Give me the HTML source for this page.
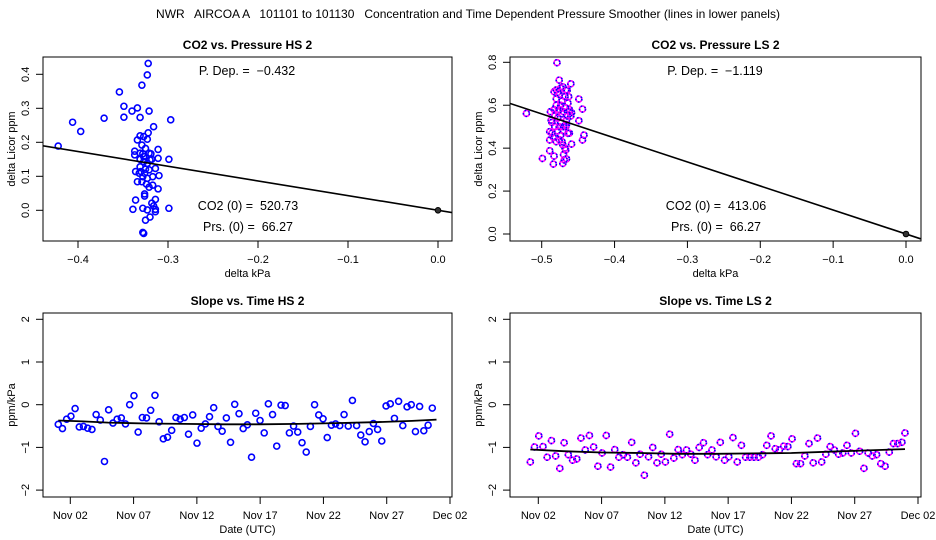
<!DOCTYPE html>
<html><head><meta charset="utf-8">
<style>
html,body{margin:0;padding:0;background:#fff;}
svg{display:block;font-family:"Liberation Sans",sans-serif;}
svg text{white-space:pre;}
</style></head>
<body>
<svg id="chart" width="936" height="540" viewBox="0 0 936 540" xmlns="http://www.w3.org/2000/svg" xml:space="preserve">
<text x="468" y="18" text-anchor="middle" font-size="12">NWR   AIRCOA A   101101 to 101130   Concentration and Time Dependent Pressure Smoother (lines in lower panels)</text>
</svg>
<script>
// ---- data: top-left HS scatter ----
const hsPx=[-0.422,-0.406,-0.397,-0.371,-0.354,-0.349,-0.349,-0.340,-0.334,-0.331,-0.329,-0.323,-0.322,-0.321,-0.316,-0.322,-0.297,-0.299,-0.299,-0.311,-0.311,-0.310,-0.311,-0.314,-0.314,-0.314,-0.320,-0.325,-0.327,-0.328,-0.336,-0.339,-0.326,-0.326,-0.317,-0.317,-0.334,-0.336,-0.337,-0.337,-0.334,-0.331,-0.327,-0.323,-0.329,-0.325,-0.328,-0.321,-0.319,-0.331,-0.327,-0.323,-0.320,-0.331,-0.325,-0.321,-0.332,-0.328,-0.323,-0.329,-0.324,-0.321,-0.328,-0.323,-0.318,-0.316,-0.314,-0.331,-0.327,-0.330,-0.326,-0.318];
const hsPy=[0.189,0.259,0.232,0.271,0.348,0.306,0.274,0.292,0.301,0.273,0.368,0.398,0.432,0.292,0.246,0.228,0.266,0.150,0.006,0.179,0.153,0.102,0.063,0.123,0.032,-0.004,-0.020,-0.029,-0.068,-0.065,0.030,0.003,0.048,0.042,0.099,0.074,0.084,0.114,0.163,0.174,0.207,0.219,0.217,0.209,0.192,0.182,0.166,0.168,0.166,0.150,0.143,0.138,0.148,0.128,0.121,0.119,0.109,0.099,0.094,0.084,0.077,0.068,0.006,0.001,0.021,0.013,0.003,0.168,0.158,0.114,0.109,0.150];
const hsSlopeP=-0.432;
const hsXTicks=[-0.4,-0.3,-0.2,-0.1,0.0];
const hsXLabels=["\u22120.4","\u22120.3","\u22120.2","\u22120.1","0.0"];
const hsYTicks=[0.0,0.1,0.2,0.3,0.4];
const hsYLabels=["0.0","0.1","0.2","0.3","0.4"];
// ---- data: top-right LS scatter ----
const lsPx=[-0.521,-0.499,-0.479,-0.476,-0.449,-0.449,-0.444,-0.442,-0.444,-0.459,-0.460,-0.489,-0.483,-0.484,-0.489,-0.489,-0.487,-0.488,-0.483,-0.480,-0.471,-0.469,-0.467,-0.471,-0.464,-0.467,-0.462,-0.459,-0.463,-0.467,-0.471,-0.480,-0.476,-0.472,-0.468,-0.465,-0.478,-0.474,-0.470,-0.466,-0.482,-0.478,-0.474,-0.470,-0.484,-0.480,-0.476,-0.486,-0.472,-0.468,-0.476,-0.480,-0.464,-0.462,-0.470,-0.474,-0.478,-0.466,-0.482,-0.486,-0.472,-0.468,-0.470,-0.466,-0.478,-0.474,-0.465,-0.483,-0.460,-0.462,-0.476];
const lsPy=[0.562,0.352,0.798,0.717,0.629,0.528,0.582,0.461,0.438,0.419,0.700,0.388,0.363,0.326,0.477,0.438,0.531,0.570,0.663,0.671,0.329,0.345,0.391,0.415,0.469,0.500,0.570,0.565,0.640,0.671,0.686,0.600,0.580,0.560,0.590,0.550,0.540,0.520,0.500,0.530,0.500,0.480,0.460,0.480,0.450,0.430,0.440,0.470,0.620,0.640,0.650,0.630,0.610,0.580,0.570,0.600,0.570,0.510,0.550,0.520,0.430,0.400,0.370,0.350,0.660,0.680,0.670,0.580,0.550,0.470,0.500];
const lsSlopeP=-1.119;
const lsXTicks=[-0.5,-0.4,-0.3,-0.2,-0.1,0.0];
const lsXLabels=["\u22120.5","\u22120.4","\u22120.3","\u22120.2","\u22120.1","0.0"];
const lsYTicks=[0.0,0.2,0.4,0.6,0.8];
const lsYLabels=["0.0","0.2","0.4","0.6","0.8"];
// ---- data: bottom-left HS slope vs time (day of Nov) ----
const hsT=[1.05,1.38,1.71,2.05,2.38,2.71,3.04,3.37,3.71,4.04,4.37,4.70,5.03,5.37,5.70,6.03,6.36,6.69,7.03,7.36,7.69,8.02,8.35,8.69,9.02,9.35,9.68,10.01,10.35,10.68,11.01,11.34,11.67,12.01,12.34,12.67,13.00,13.33,13.67,14.00,14.33,14.66,14.99,15.33,15.66,15.99,16.32,16.65,16.99,17.32,17.65,17.98,18.31,18.65,18.98,19.31,19.64,19.97,20.31,20.64,20.97,21.30,21.63,21.97,22.30,22.63,22.96,23.29,23.63,23.96,24.29,24.62,24.95,25.29,25.62,25.95,26.28,26.61,26.95,27.28,27.61,27.94,28.27,28.61,28.94,29.27,29.60,29.93,30.27,30.60,30.93];
const hsS=[-0.46,-0.56,-0.34,-0.27,-0.09,-0.52,-0.51,-0.55,-0.58,-0.23,-0.36,-1.33,-0.12,-0.43,-0.34,-0.31,-0.45,0.00,0.21,-0.64,-0.30,-0.31,-0.13,0.22,-0.40,-0.80,-0.76,-0.60,-0.30,-0.34,-0.30,-0.69,-0.24,-0.90,-0.55,-0.45,-0.28,-0.07,-0.51,-0.62,-0.31,-0.88,0.01,-0.21,-0.56,-0.47,-1.23,-0.20,-0.37,-0.66,0.02,-0.23,-0.97,-0.01,-0.02,-0.66,-0.50,-0.64,-0.89,-1.11,-0.51,0.00,-0.24,-0.33,-0.77,-0.48,-0.45,-0.49,-0.23,-0.50,0.10,-0.49,-0.71,-0.87,-0.63,-0.44,-0.58,-0.85,-0.03,0.02,-0.32,0.08,-0.49,-0.05,0.00,-0.63,-0.04,-0.61,-0.48,-0.08];
const hsSmT=[1.05,3,5,8,11,14,17,20,23,26,29,30.93];
const hsSmV=[-0.37,-0.39,-0.42,-0.44,-0.45,-0.46,-0.46,-0.45,-0.43,-0.41,-0.38,-0.35];
// ---- data: bottom-right LS slope vs time ----
const lsT=[1.37,1.70,2.04,2.37,2.70,3.04,3.37,3.70,4.04,4.37,4.71,5.04,5.37,5.71,6.04,6.37,6.71,7.04,7.37,7.71,8.04,8.37,8.71,9.04,9.38,9.71,10.04,10.38,10.71,11.04,11.38,11.71,12.04,12.38,12.71,13.05,13.38,13.71,14.05,14.38,14.71,15.05,15.38,15.72,16.05,16.38,16.72,17.05,17.38,17.72,18.05,18.38,18.72,19.05,19.39,19.72,20.05,20.39,20.72,21.05,21.39,21.72,22.05,22.39,22.72,23.06,23.39,23.72,24.06,24.39,24.72,25.06,25.39,25.73,26.06,26.39,26.73,27.06,27.39,27.73,28.06,28.39,28.73,29.06,29.40,29.73,30.06,30.40,30.73,30.97];
const lsS=[-1.34,-0.99,-0.73,-0.98,-1.23,-0.84,-1.20,-1.49,-0.89,-1.17,-1.30,-1.27,-0.78,-1.06,-0.72,-0.99,-1.44,-1.13,-0.72,-1.46,-1.05,-1.23,-1.17,-1.23,-0.88,-1.36,-1.16,-1.65,-1.22,-1.00,-1.36,-1.16,-1.34,-0.69,-1.25,-1.05,-1.17,-1.06,-1.16,-1.30,-1.00,-0.89,-1.17,-1.06,-1.22,-0.88,-1.30,-1.22,-0.77,-1.34,-0.95,-1.23,-1.23,-1.23,-1.23,-1.17,-0.95,-0.73,-1.03,-1.06,-0.97,-0.98,-0.80,-1.38,-1.38,-1.20,-0.91,-1.36,-0.78,-1.34,-1.16,-0.98,-1.06,-1.16,-1.13,-0.95,-1.13,-0.67,-1.09,-1.49,-1.13,-1.20,-1.17,-1.38,-1.44,-1.11,-0.91,-0.91,-0.88,-0.66];
const lsSmT=[1.37,4,7,10,13,16,19,22,25,28,30.97];
const lsSmV=[-1.05,-1.09,-1.12,-1.13,-1.15,-1.15,-1.14,-1.13,-1.10,-1.07,-1.04];
const slYTicks=[-2,-1,0,1,2];
const slYLabels=["\u22122","\u22121","0","1","2"];
const dateTicks=[2,7,12,17,22,27,32];
const dateLabels=["Nov 02","Nov 07","Nov 12","Nov 17","Nov 22","Nov 27","Dec 02"];

const NS="http://www.w3.org/2000/svg";
const svg=document.getElementById('chart');
function mk(tag,attrs,parent){const e=document.createElementNS(NS,tag);for(const k in attrs)e.setAttribute(k,attrs[k]);(parent||svg).appendChild(e);return e;}
function lin(d0,d1,r0,r1){return v=>r0+(v-d0)*(r1-r0)/(d1-d0);}

function panel(o){
  const g=mk('g',{});
  
  
  const t=mk('text',{x:(o.x0+o.x1)/2,y:o.y0-8,'text-anchor':'middle','font-size':12,'font-weight':'bold'},g);
  t.textContent=o.title;
  
  
  const box=mk('rect',{x:o.x0,y:o.y0,width:o.x1-o.x0,height:o.y1-o.y0,fill:'none',stroke:'#000','stroke-width':1},g);
  
  
  const xa=mk('g',{},g);
  
  
  o.xt.forEach((v,i)=>{const px=o.sx(v);
    mk('line',{x1:px,x2:px,y1:o.y1,y2:o.y1+7,stroke:'#000'},xa);
    const l=mk('text',{x:px,y:o.y1+22,'text-anchor':'middle','font-size':11},xa);
    l.textContent=o.xl[i];
    
    });
  const xt=mk('text',{x:(o.x0+o.x1)/2,y:o.y1+36,'text-anchor':'middle','font-size':11},xa);
  xt.textContent=o.xtitle;
  
  
  const ya=mk('g',{},g);
  
  
  o.yt.forEach((v,i)=>{const py=o.sy(v);
    mk('line',{x1:o.x0,x2:o.x0-7,y1:py,y2:py,stroke:'#000'},ya);
    const l=mk('text',{x:o.x0-14,y:py,'text-anchor':'middle','font-size':11,transform:`rotate(-90 ${o.x0-14} ${py})`},ya);
    l.textContent=o.yl[i];
    
    });
  const cy=(o.y0+o.y1)/2;
  const yt=mk('text',{x:o.x0-28,y:cy,'text-anchor':'middle','font-size':11,transform:`rotate(-90 ${o.x0-28} ${cy})`},ya);
  yt.textContent=o.ytitle;
  
  
  return g;
}
function clip(id,x0,y0,x1,y1){const c=mk('clipPath',{id:id});mk('rect',{x:x0,y:y0,width:x1-x0,height:y1-y0},c);}
function points(g,xs,ys,sx,sy,ls,cid){
  const pg=mk('g',{'clip-path':`url(#${cid})`},g);
  
  
  xs.forEach((v,i)=>{
    const c=mk('circle',{cx:sx(v),cy:sy(ys[i]),r:3,fill:'none',stroke:ls?'#ff00ff':'#0000ff','stroke-width':1.6},pg);
    
    
    if(ls){mk('circle',{cx:sx(v),cy:sy(ys[i]),r:3,fill:'none',stroke:'#0000ff','stroke-width':1.6,'stroke-dasharray':'1.5 2.5'},pg);}
  });
}
function label(g,x,y,s,name){const t=mk('text',{x:x,y:y,'text-anchor':'middle','font-size':12.5},g);t.textContent=s;
  
  }

// Top-left
(function(){
  const o={name:'panel-co2-pressure-hs',title:'CO2 vs. Pressure HS 2',x0:43,x1:452,y0:57,y1:241,
    sx:lin(-0.4,0,78,438),sy:lin(0,0.4,210.3,74.3),xt:hsXTicks,xl:hsXLabels,yt:hsYTicks,yl:hsYLabels,xtitle:'delta kPa',ytitle:'delta Licor ppm'};
  const g=panel(o);clip('c1',o.x0,o.y0,o.x1,o.y1);
  points(g,hsPx,hsPy,o.sx,o.sy,false,'c1');
  const xa=-0.44,xb=0.016;
  const fl=mk('line',{x1:o.sx(xa),y1:o.sy(hsSlopeP*xa),x2:o.sx(xb),y2:o.sy(hsSlopeP*xb),stroke:'#000','stroke-width':1.6,'clip-path':'url(#c1)'},g);
  
  
  const z=mk('circle',{cx:o.sx(0),cy:o.sy(0),r:2.8,fill:'#333',stroke:'#000','stroke-width':1},g);
  
  
  label(g,247,75,'P. Dep. =  \u22120.432','pressure-dependence-label');
  label(g,248,210,'CO2 (0) =  520.73','co2-zero-label');
  label(g,248,231,'Prs. (0) =  66.27','pressure-zero-label');
})();
// Top-right
(function(){
  const o={name:'panel-co2-pressure-ls',title:'CO2 vs. Pressure LS 2',x0:510,x1:921,y0:57,y1:241,
    sx:lin(-0.5,0,541.7,906),sy:lin(0,0.8,234,62.3),xt:lsXTicks,xl:lsXLabels,yt:lsYTicks,yl:lsYLabels,xtitle:'delta kPa',ytitle:'delta Licor ppm'};
  const g=panel(o);clip('c2',o.x0,o.y0,o.x1,o.y1);
  points(g,lsPx,lsPy,o.sx,o.sy,true,'c2');
  const xa=-0.545,xb=0.02;
  const fl=mk('line',{x1:o.sx(xa),y1:o.sy(lsSlopeP*xa),x2:o.sx(xb),y2:o.sy(lsSlopeP*xb),stroke:'#000','stroke-width':1.6,'clip-path':'url(#c2)'},g);
  
  
  const z=mk('circle',{cx:o.sx(0),cy:o.sy(0),r:2.8,fill:'#333',stroke:'#000','stroke-width':1},g);
  
  
  label(g,715,75,'P. Dep. =  \u22121.119','pressure-dependence-label');
  label(g,716,210,'CO2 (0) =  413.06','co2-zero-label');
  label(g,716,231,'Prs. (0) =  66.27','pressure-zero-label');
})();
// Bottom panels
function slopePanel(name,title,x0,x1,d2,d32,ts,vs,smt,smv,ls,cid){
  const o={name:name,title:title,x0:x0,x1:x1,y0:313,y1:497,sx:lin(2,32,d2,d32),sy:lin(0,2,404.7,319.3),
    xt:dateTicks,xl:dateLabels,yt:slYTicks,yl:slYLabels,xtitle:'Date (UTC)',ytitle:'ppm/kPa'};
  const g=panel(o);clip(cid,o.x0,o.y0,o.x1,o.y1);
  points(g,ts,vs,o.sx,o.sy,ls,cid);
  const pts=smt.map((t,i)=>o.sx(t).toFixed(1)+','+o.sy(smv[i]).toFixed(1)).join(' ');
  const pl=mk('polyline',{points:pts,fill:'none',stroke:'#000','stroke-width':1.8},g);
  
  
}
slopePanel('panel-slope-time-hs','Slope vs. Time HS 2',43,452,70.3,450,hsT,hsS,hsSmT,hsSmV,false,'c3');
slopePanel('panel-slope-time-ls','Slope vs. Time LS 2',510,921,538.3,918,lsT,lsS,lsSmT,lsSmV,true,'c4');
</script>
</body></html>
